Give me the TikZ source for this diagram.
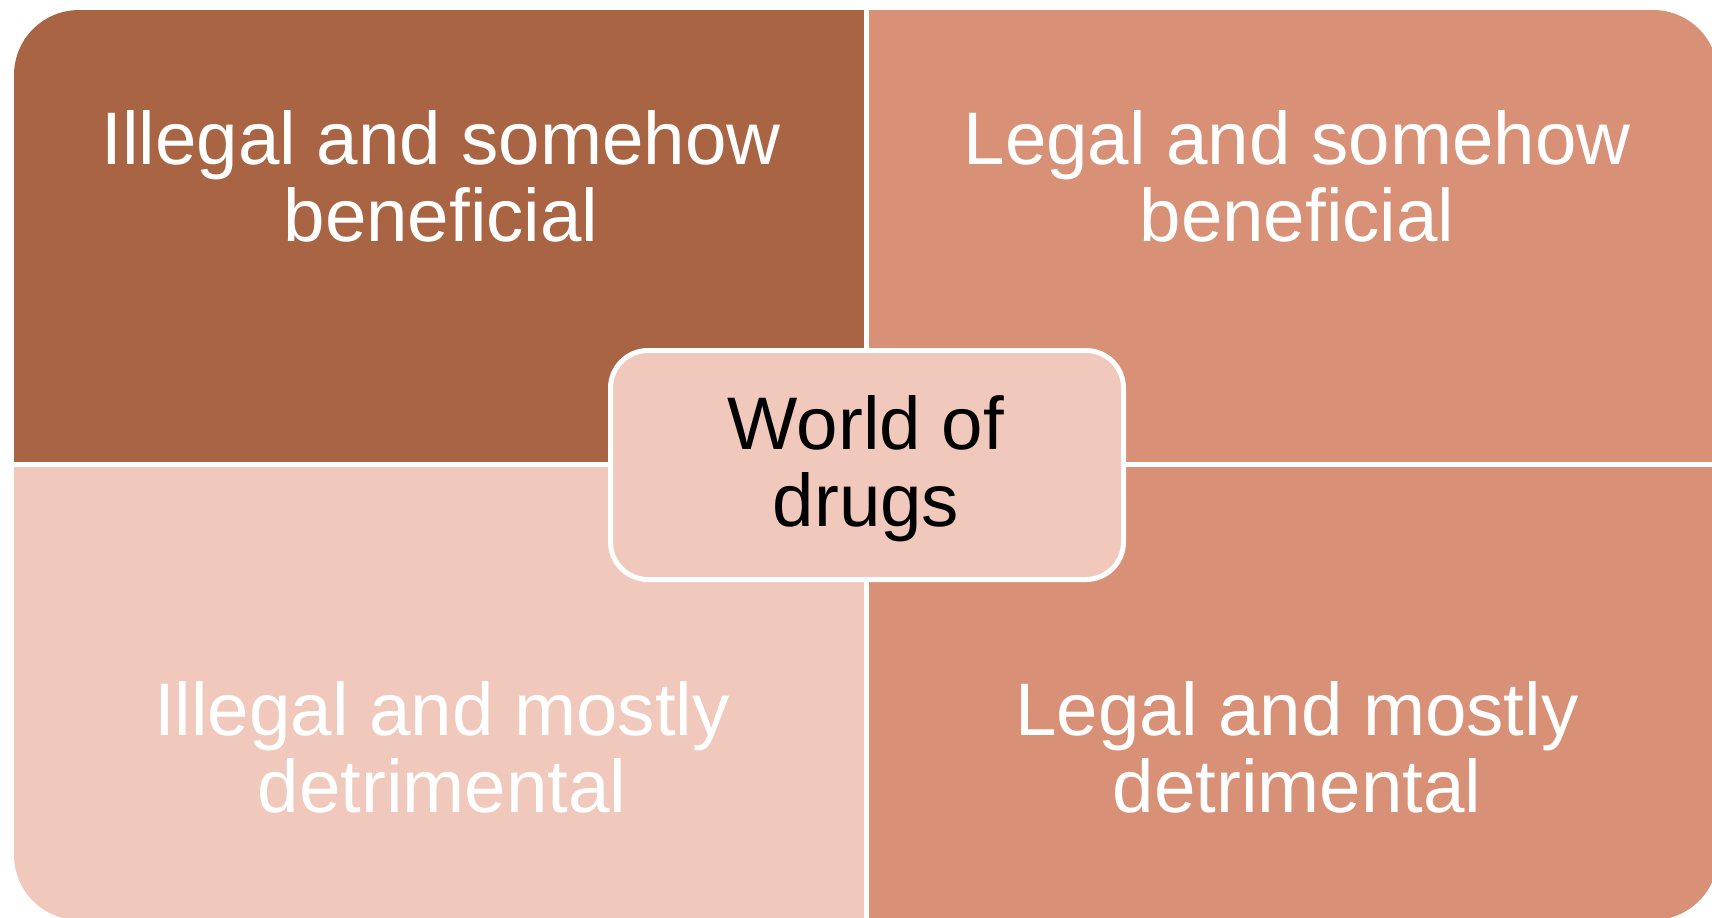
\documentclass[tikz,border=0pt]{standalone}
\usepackage{fontspec}
\setmainfont{Liberation Sans}
\usepackage{xcolor}
\usepackage{tikz}

\definecolor{quadBrown}{HTML}{A96543}
\definecolor{quadSalmon}{HTML}{D89076}
\definecolor{quadBlush}{HTML}{F0C8BC}

\begin{document}
\begin{tikzpicture}[x=0.5pt,y=-0.5pt,
  quadtext/.style={text=white,align=center,inner sep=0pt,
    font=\fontsize{37.25}{38.5}\selectfont},
  hubtext/.style={quadtext,text=black},
  hubbox/.style={draw=white,line width=2.5pt,fill=quadBlush,
    rounded corners=18.75pt,minimum width=256.5pt,minimum height=114.5pt,inner sep=0pt}]
  \useasboundingbox (0,0) rectangle (1712,917);

  % four quadrants, cut to one rounded block
  \begin{scope}
    \clip[rounded corners=32.5pt] (14,10) rectangle (1718,920);
    \fill[quadBrown]  (14,10)  rectangle (864,462);
    \fill[quadSalmon] (869,10) rectangle (1718,462);
    \fill[quadBlush]  (14,467) rectangle (864,920);
    \fill[quadSalmon] (869,467) rectangle (1718,920);
  \end{scope}

  % quadrant labels
  \node[quadtext] (illben) at (441,176) {Illegal and somehow\\beneficial};
  \node[quadtext] (legben) at (1297,176) {Legal and somehow\\beneficial};
  \node[quadtext] (illdet) at (442,747) {Illegal and mostly\\detrimental};
  \node[quadtext] (legdet) at (1297,747) {Legal and mostly\\detrimental};

  % centre box
  \node[hubbox] (hub) at (867,465) {};
  \node[hubtext] (hublabel) at (866,469) {World of\\drugs};
\end{tikzpicture}
\end{document}
